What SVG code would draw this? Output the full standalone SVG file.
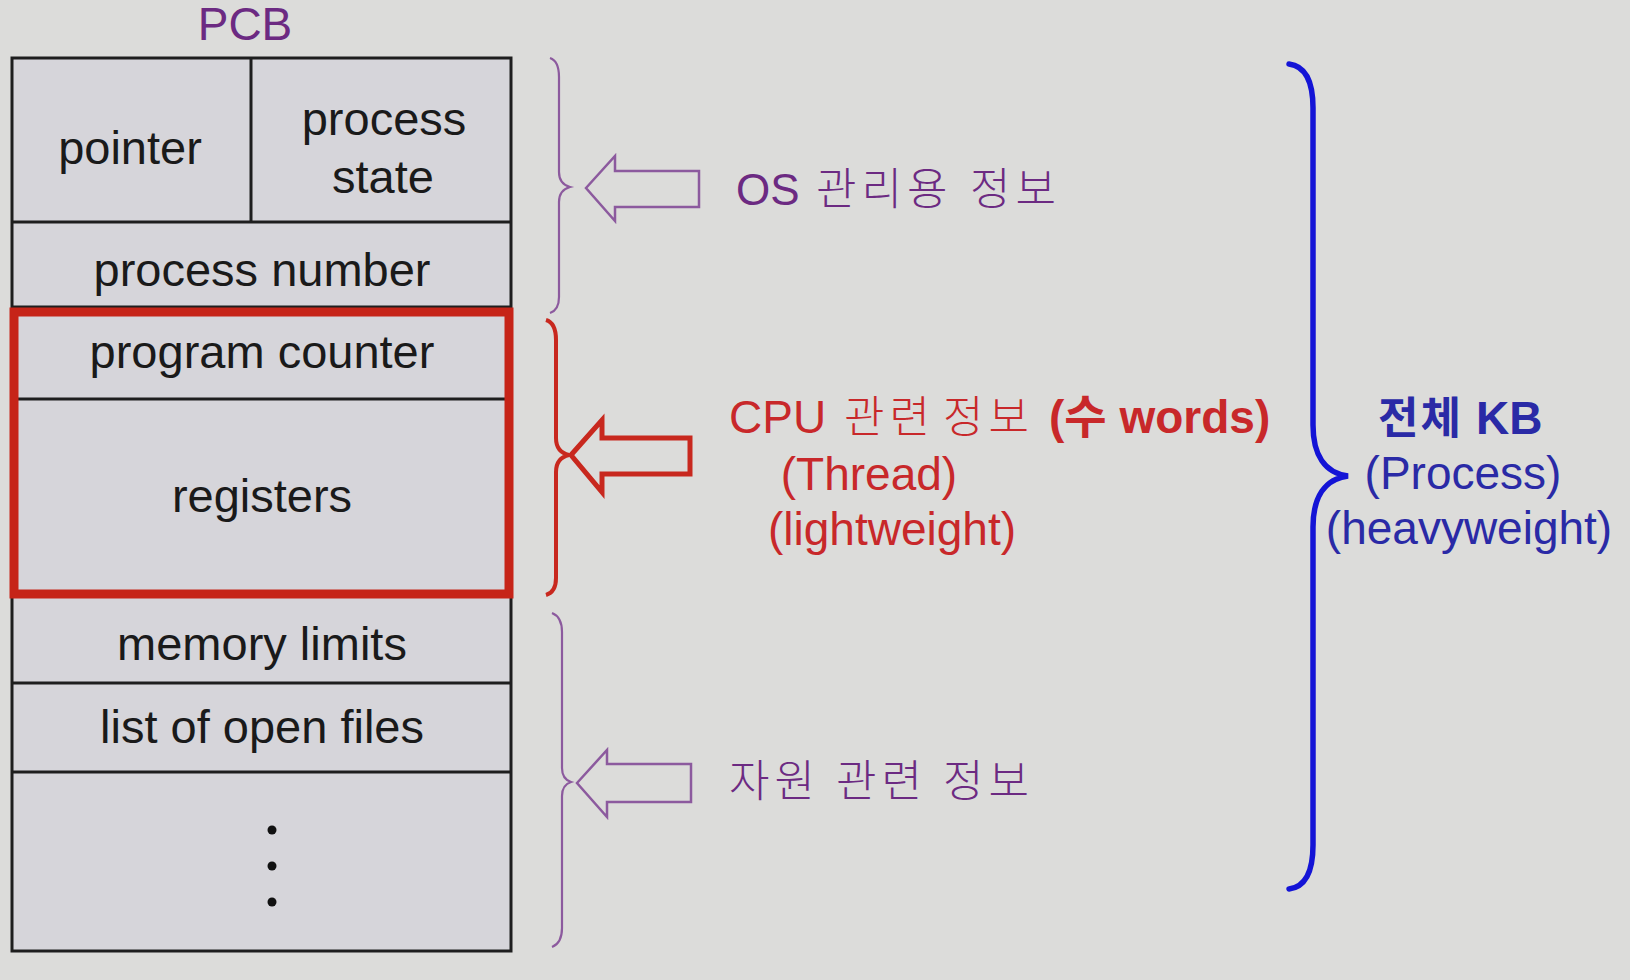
<svg xmlns="http://www.w3.org/2000/svg" width="1630" height="980" viewBox="0 0 1630 980">
<style>
.bg{fill:#dcdcda}
.cell{fill:#d6d5da;stroke:none}
.ln{stroke:#1e1e1e;stroke-width:3;fill:none}
.t{font-family:"Liberation Sans",Arial,"Noto Sans CJK KR",sans-serif;font-size:47px;fill:#1a1a1a;text-anchor:middle}
.lab{font-family:"Liberation Sans",Arial,"Noto Sans CJK KR",sans-serif;font-size:46px}
.ko{font-family:"Noto Sans CJK KR",sans-serif;font-size:44px;font-weight:300;letter-spacing:5px}
.pur{fill:#6c2a82}
.red{fill:#c8282a}
.blu{fill:#2a2aa6}
.bp{fill:none;stroke:#8c5a9e;stroke-width:2.2}
.br{fill:none;stroke:#c8281e;stroke-width:4}
.bb{fill:none;stroke:#1414d6;stroke-width:5.5;stroke-linecap:round}
.ap{fill:none;stroke:#8c5a9e;stroke-width:2.5;stroke-linejoin:miter}
.ar{fill:none;stroke:#c8281e;stroke-width:5;stroke-linejoin:miter}
</style>
<rect class="bg" x="0" y="0" width="1630" height="980"/>

<g id="pcb-title">
<text class="lab pur" x="245" y="40" text-anchor="middle">PCB</text>
</g>

<g id="pcb-table">
<rect class="cell" x="12" y="58" width="499" height="893"/>
<g id="cell-pointer"><text class="t" x="130" y="164">pointer</text></g>
<g id="cell-process-state"><text class="t" x="384" y="135">process</text><text class="t" x="383" y="193">state</text></g>
<g id="cell-process-number"><text class="t" x="262" y="286">process number</text></g>
<g id="cell-program-counter"><text class="t" x="262" y="368">program counter</text></g>
<g id="cell-registers"><text class="t" x="262" y="512">registers</text></g>
<g id="cell-memory-limits"><text class="t" x="262" y="660">memory limits</text></g>
<g id="cell-open-files"><text class="t" x="262" y="743">list of open files</text></g>
<g id="cell-more">
<circle cx="272" cy="830" r="4.5" fill="#111"/>
<circle cx="272" cy="866" r="4.5" fill="#111"/>
<circle cx="272" cy="902" r="4.5" fill="#111"/>
</g>
<rect class="ln" x="12" y="58" width="499" height="893"/>
<line class="ln" x1="251" y1="58" x2="251" y2="222"/>
<line class="ln" x1="12" y1="222" x2="511" y2="222"/>
<line class="ln" x1="12" y1="307" x2="511" y2="307"/>
<line class="ln" x1="12" y1="399" x2="511" y2="399"/>
<line class="ln" x1="12" y1="594" x2="511" y2="594"/>
<line class="ln" x1="12" y1="683" x2="511" y2="683"/>
<line class="ln" x1="12" y1="772" x2="511" y2="772"/>
<rect id="cpu-highlight" x="14" y="312" width="495" height="282" fill="none" stroke="#c62418" stroke-width="9"/>
</g>

<g id="connectors">
<path class="bp" d="M550,58 Q559,61 559,77 L559,172 Q559,184 570,187 Q559,190 559,202 L559,297 Q559,310 550,313"/>
<path class="br" d="M546,320 Q556,323 556,340 L556,438 Q556,452 569,455 Q556,458 556,472 L556,578 Q556,592 546,595"/>
<path class="bp" d="M552,613 Q562,617 562,632 L562,768 Q562,779 571,782 Q562,785 562,796 L562,928 Q562,943 552,947"/>
<path class="bb" d="M1289,64 C1305,66 1313,80 1313,108 L1313,425 C1313,455 1325,473 1348,476 C1325,479 1313,497 1313,527 L1313,845 C1313,873 1305,887 1289,889"/>
<polygon class="ap" points="586,188 615,156 615,171 699,171 699,207 615,207 615,221"/>
<polygon class="ar" points="571,455 602,420 602,438 690,438 690,474 602,474 602,492"/>
<polygon class="ap" points="577,783 607,750 607,764 691,764 691,802 607,802 607,817"/>
</g>

<g id="label-os">
<text class="pur" y="205"><tspan class="lab" x="736" style="font-size:44px">OS</tspan><tspan class="ko" x="816">관리용</tspan><tspan class="ko" x="970">정보</tspan></text>
</g>

<g id="label-cpu">
<text class="red" y="433"><tspan class="lab" x="729">CPU</tspan><tspan class="ko" x="844">관련</tspan><tspan class="ko" x="943">정보</tspan><tspan class="lab" x="1049" font-weight="bold">(수 words)</tspan></text>
<text class="lab red" x="869" y="490" text-anchor="middle">(Thread)</text>
<text class="lab red" x="892" y="545" text-anchor="middle">(lightweight)</text>
</g>

<g id="label-resource">
<text class="pur" y="797"><tspan class="ko" x="729">자원</tspan><tspan class="ko" x="836">관련</tspan><tspan class="ko" x="943">정보</tspan></text>
</g>

<g id="label-process">
<text class="blu" y="434" font-weight="bold"><tspan class="ko" x="1378" style="font-weight:700;letter-spacing:2px">전체</tspan><tspan class="lab" x="1476">KB</tspan></text>
<text class="lab blu" x="1463" y="489" text-anchor="middle">(Process)</text>
<text class="lab blu" x="1469" y="544" text-anchor="middle">(heavyweight)</text>
</g>
</svg>
